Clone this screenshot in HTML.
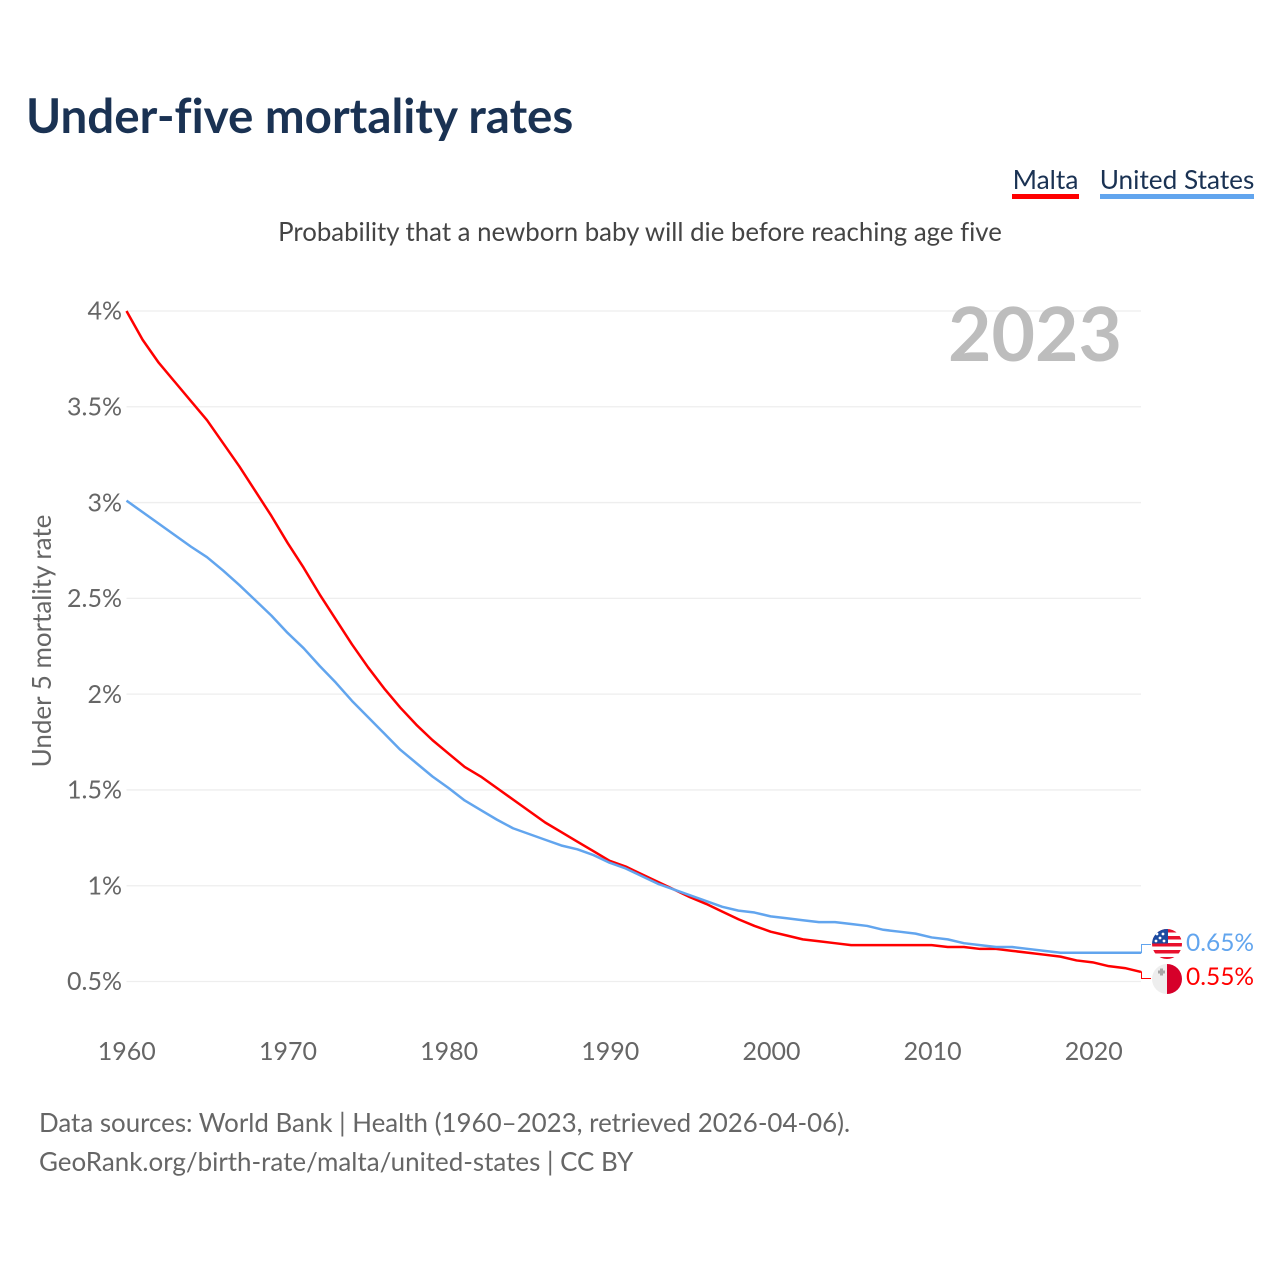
<!DOCTYPE html>
<html lang="en">
<head>
<meta charset="utf-8">
<title>Under-five mortality rates</title>
<style>
html,body{margin:0;padding:0;background:#fff;}
body{width:1280px;height:1280px;overflow:hidden;}
svg{display:block;font-family:"Lato","Carlito","Liberation Sans",sans-serif;font-variant-ligatures:none;}
</style>
</head>
<body>
<svg id="chart" width="1280" height="1280" viewBox="0 0 1280 1280">
  <defs>
    <clipPath id="clip-us"><circle cx="1167" cy="944" r="15"/></clipPath>
    <clipPath id="clip-mt"><circle cx="1167" cy="979" r="15"/></clipPath>
  </defs>
  <text x="26" y="133" font-size="47.500" font-weight="700" fill="#1a3253">Under-five mortality rates</text>

  <g>
    <text x="1045.500" y="189" text-anchor="middle" font-size="26.300" fill="#1a3253">Malta</text>
    <rect x="1012" y="194" width="67" height="5" fill="#ff0000"/>
  </g>
  <g>
    <text x="1177" y="189" text-anchor="middle" font-size="26.200" fill="#1a3253">United States</text>
    <rect x="1100" y="194" width="154" height="5" fill="#62a5ee"/>
  </g>

  <text x="640" y="241" text-anchor="middle" font-size="25.800" fill="#444444">Probability that a newborn baby will die before reaching age five</text>

  <text transform="translate(51 641) rotate(-90)" text-anchor="middle" font-size="26" fill="#666666">Under 5 mortality rate</text>

  <g id="grid"></g>
  <g id="y-ticks"></g>
  <g id="x-ticks"></g>

  <text x="1122" y="361" text-anchor="end" font-size="75" font-weight="700" fill="#bdbdbd">2023</text>

  <g id="series"></g>

  <g clip-path="url(#clip-us)">
    <rect x="1152" y="929" width="30" height="30" fill="#ffffff"/>
    <rect x="1152" y="929" width="30" height="3.5" fill="#e8112d"/>
    <rect x="1152" y="936" width="30" height="3.5" fill="#e8112d"/>
    <rect x="1152" y="943" width="30" height="3.5" fill="#e8112d"/>
    <rect x="1152" y="950" width="30" height="3.5" fill="#e8112d"/>
    <rect x="1152" y="957" width="30" height="3.5" fill="#e8112d"/>
    <rect x="1152" y="929" width="16" height="14.5" fill="#1b4aa0"/>
    <circle cx="1157" cy="934" r="1.4" fill="#fff"/>
    <circle cx="1163" cy="934" r="1.4" fill="#fff"/>
    <circle cx="1160" cy="938" r="1.4" fill="#fff"/>
    <circle cx="1156" cy="941" r="1.4" fill="#fff"/>
    <circle cx="1164" cy="941" r="1.4" fill="#fff"/>
  </g>
  <g clip-path="url(#clip-mt)">
    <rect x="1152" y="964" width="15" height="30" fill="#eeeeee"/>
    <rect x="1167" y="964" width="15" height="30" fill="#d6002a"/>
    <path d="M1160 968.500h3v2h2v3h-2v2h-3v-2h-2v-3h2z" fill="#a8a8a8"/>
  </g>

  <g>
    <text x="39" y="1132" font-size="25.900" fill="#666666">Data sources: World Bank | Health (1960–2023, retrieved 2026-04-06).</text>
    <text x="39" y="1171" font-size="25.950" fill="#666666">GeoRank.org/birth-rate/malta/united-states | CC BY</text>
  </g>
</svg>
<script>
const years = [1960,1961,1962,1963,1964,1965,1966,1967,1968,1969,1970,1971,1972,1973,1974,1975,1976,1977,1978,1979,1980,1981,1982,1983,1984,1985,1986,1987,1988,1989,1990,1991,1992,1993,1994,1995,1996,1997,1998,1999,2000,2001,2002,2003,2004,2005,2006,2007,2008,2009,2010,2011,2012,2013,2014,2015,2016,2017,2018,2019,2020,2021,2022,2023];
const maltaValues = [4.00,3.85,3.73,3.63,3.53,3.43,3.31,3.19,3.06,2.93,2.79,2.66,2.52,2.39,2.26,2.14,2.03,1.93,1.84,1.76,1.69,1.62,1.57,1.51,1.45,1.39,1.33,1.28,1.23,1.18,1.13,1.10,1.06,1.02,0.98,0.94,0.905,0.865,0.825,0.79,0.76,0.74,0.72,0.71,0.70,0.69,0.69,0.69,0.69,0.69,0.69,0.68,0.68,0.67,0.67,0.66,0.65,0.64,0.63,0.61,0.60,0.58,0.57,0.55];
const usValues = [3.01,2.95,2.89,2.83,2.77,2.715,2.645,2.57,2.49,2.41,2.32,2.24,2.147,2.06,1.965,1.88,1.795,1.71,1.64,1.57,1.51,1.445,1.395,1.345,1.30,1.27,1.24,1.21,1.19,1.16,1.12,1.09,1.05,1.01,0.98,0.95,0.92,0.89,0.87,0.86,0.84,0.83,0.82,0.81,0.81,0.80,0.79,0.77,0.76,0.75,0.73,0.72,0.70,0.69,0.68,0.68,0.67,0.66,0.65,0.65,0.65,0.65,0.65,0.65];
const yTickValues = [0.5,1,1.5,2,2.5,3,3.5,4];
const yTickLabels = ["0.5%","1%","1.5%","2%","2.5%","3%","3.5%","4%"];
const xTickValues = [1960,1970,1980,1990,2000,2010,2020];
const xTickLabels = ["1960","1970","1980","1990","2000","2010","2020"];

const NS = 'http://www.w3.org/2000/svg';
const xScale = function (yr) { return 126.5 + (yr - 1960) * (1141 - 126.5) / 63; };
const xTickScale = function (yr) { return 126.8 + (yr - 1960) * 16.117; };
const yScale = function (v) { return 981.5 - (v - 0.5) * (981.5 - 311) / 3.5; };

const grid = document.getElementById('grid');
const yTicks = document.getElementById('y-ticks');
const xTicks = document.getElementById('x-ticks');
const series = document.getElementById('series');

yTickValues.forEach(function (v, i) {
  const line = document.createElementNS(NS, 'line');
  
  
  line.setAttribute('x1', xScale(1960));
  line.setAttribute('x2', xScale(2023));
  line.setAttribute('y1', yScale(v));
  line.setAttribute('y2', yScale(v));
  line.setAttribute('stroke', '#eeeeee');
  line.setAttribute('stroke-width', '1.3');
  grid.appendChild(line);

  const t = document.createElementNS(NS, 'text');
  
  
  t.setAttribute('x', 122);
  t.setAttribute('y', yScale(v) + 8.7);
  t.setAttribute('text-anchor', 'end');
  t.setAttribute('font-size', '25');
  t.setAttribute('fill', '#666666');
  t.textContent = yTickLabels[i];
  yTicks.appendChild(t);
});

xTickValues.forEach(function (yr, i) {
  const t = document.createElementNS(NS, 'text');
  
  
  t.setAttribute('x', xTickScale(yr));
  t.setAttribute('y', 1060);
  t.setAttribute('text-anchor', 'middle');
  t.setAttribute('font-size', '25');
  t.setAttribute('fill', '#666666');
  t.textContent = xTickLabels[i];
  xTicks.appendChild(t);
});

function linePath(values) {
  return values.map(function (v, i) {
    return (i ? 'L' : 'M') + xScale(years[i]).toFixed(2) + ' ' + yScale(v).toFixed(2);
  }).join(' ');
}

function drawConnector(values, flagY, color, name) {
  const last = values[values.length - 1];
  const c = document.createElementNS(NS, 'path');
  
  
  const x = xScale(2023);
  c.setAttribute('d', 'M' + x + ' ' + yScale(last) + ' H' + (x + 0.5) + ' V' + flagY + ' H' + (x + 10));
  c.setAttribute('fill', 'none');
  c.setAttribute('stroke', color);
  c.setAttribute('stroke-width', '1');
  series.appendChild(c);
}

function drawEndLabel(y, color, text, name) {
  const t = document.createElementNS(NS, 'text');
  
  
  t.setAttribute('x', 1186);
  t.setAttribute('y', y);
  t.setAttribute('font-size', '24.500');
  t.setAttribute('fill', color);
  t.textContent = text;
  document.getElementById('chart').appendChild(t);
}

const usLine = document.createElementNS(NS, 'path');


usLine.setAttribute('d', linePath(usValues));
usLine.setAttribute('fill', 'none');
usLine.setAttribute('stroke', '#62a5ee');
usLine.setAttribute('stroke-width', '2.500');
usLine.setAttribute('stroke-linejoin', 'round');

const maltaLine = document.createElementNS(NS, 'path');


maltaLine.setAttribute('d', linePath(maltaValues));
maltaLine.setAttribute('fill', 'none');
maltaLine.setAttribute('stroke', '#ff0000');
maltaLine.setAttribute('stroke-width', '2.500');
maltaLine.setAttribute('stroke-linejoin', 'round');

series.appendChild(maltaLine);
series.appendChild(usLine);

drawConnector(usValues, 944.5, '#62a5ee', 'connector-united-states');
drawConnector(maltaValues, 978.5, '#ff0000', 'connector-malta');

drawEndLabel(951, '#62a5ee', usValues[usValues.length - 1].toFixed(2) + '%', 'end-label-united-states');
drawEndLabel(985, '#ff0000', maltaValues[maltaValues.length - 1].toFixed(2) + '%', 'end-label-malta');
</script>
</body>
</html>
